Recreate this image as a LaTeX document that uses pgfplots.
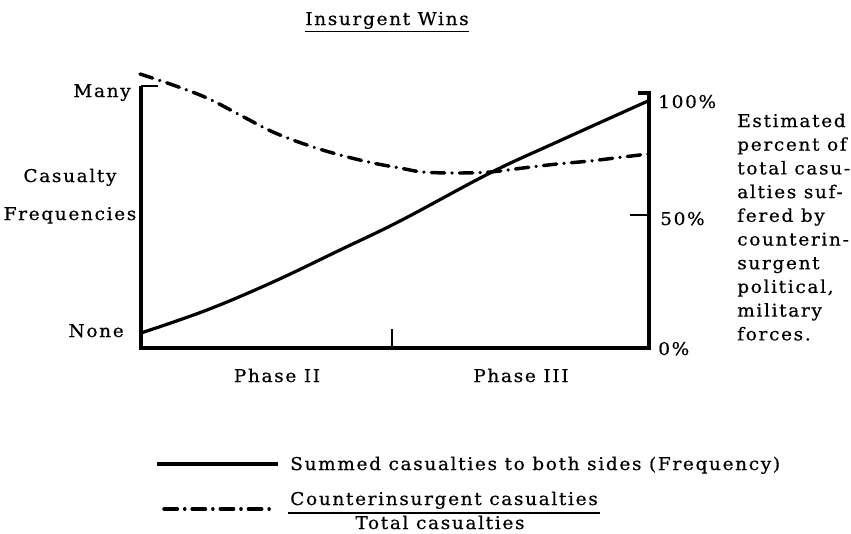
\documentclass[border=0pt]{standalone}
\usepackage{pgfplots}
\pgfplotsset{compat=1.18}
\usepackage{fontspec}
\setmainfont{DejaVu Serif}[LetterSpace=9.5, FakeStretch=1.05, FakeBold=0.6]
\tikzset{lbl/.style={font=\fontsize{13.2}{15}\selectfont, inner sep=0pt, text=black}}
\begin{document}
\begin{tikzpicture}
\begin{axis}[x=0.75pt, y=0.75pt, y dir=reverse,
  xmin=0, xmax=851, ymin=0, ymax=533,
  hide axis, clip=false]
\path (axis cs:0,0) rectangle (axis cs:851,533);
% axes frame
\draw[line width=1.3pt] (axis cs:158,86) -- (axis cs:141,86);
\draw[line width=2.6pt, line join=miter] (axis cs:141,86) -- (axis cs:141,348) -- (axis cs:649,348) -- (axis cs:649,93) -- (axis cs:638,93);
\draw[line width=2.2pt] (axis cs:630,215) -- (axis cs:649,215);
\draw[line width=2.2pt] (axis cs:392,329) -- (axis cs:392,348);
% solid: summed casualties
\addplot[black, line width=2.4pt, smooth, tension=0.6] coordinates {
(141,333) (207,310) (273,282) (340,250) (400,221) (490,173) (557,142) (648,101)};
% dash-dot: ratio
\addplot[black, line width=2.6pt, line cap=round, dash pattern=on 10pt off 5.5pt on 0.1pt off 5.5pt, smooth, tension=0.6] coordinates {
(140,74) (173,85) (207,98) (240,115) (273,132) (307,145) (340,155) (373,163)
(400,168) (423,172) (457,173) (490,172) (523,168) (557,164) (590,161) (623,157) (648,154)};
% title
\node[lbl, anchor=base] at (axis cs:387,25) {\underline{Insurgent Wins}};
% left labels
\node[lbl, anchor=base east] at (axis cs:131,97) {Many};
\node[lbl, anchor=base] at (axis cs:70,182) {Casualty};
\node[lbl, anchor=base] at (axis cs:70,220) {Frequencies};
\node[lbl, anchor=base east] at (axis cs:124,337) {None};
% bottom labels
\node[lbl, anchor=base] at (axis cs:277,382) {Phase II};
\node[lbl, anchor=base] at (axis cs:521,382) {Phase III};
% right labels
\node[lbl, anchor=base west] at (axis cs:658,108) {100\%};
\node[lbl, anchor=base west] at (axis cs:660,225) {50\%};
\node[lbl, anchor=base west] at (axis cs:658,355) {0\%};
\node[lbl, anchor=base west] at (axis cs:737,127.0) {Estimated};
\node[lbl, anchor=base west] at (axis cs:737,150.7) {percent of};
\node[lbl, anchor=base west] at (axis cs:737,174.4) {total casu-};
\node[lbl, anchor=base west] at (axis cs:737,198.1) {alties suf-};
\node[lbl, anchor=base west] at (axis cs:737,221.8) {fered by};
\node[lbl, anchor=base west] at (axis cs:737,245.5) {counterin-};
\node[lbl, anchor=base west] at (axis cs:737,269.2) {surgent};
\node[lbl, anchor=base west] at (axis cs:737,292.9) {political,};
\node[lbl, anchor=base west] at (axis cs:737,316.6) {military};
\node[lbl, anchor=base west] at (axis cs:737,340.3) {forces.};
% legend
\draw[line width=2.4pt] (axis cs:157,464) -- (axis cs:278,464);
\node[lbl, anchor=base west] at (axis cs:290,470) {Summed casualties to both sides (Frequency)};
\draw[line width=2.6pt, line cap=round, dash pattern=on 10pt off 5.5pt on 0.1pt off 5.5pt] (axis cs:164,509) -- (axis cs:274,509);
\node[lbl, anchor=base west] at (axis cs:290,505) {Counterinsurgent casualties};
\draw[line width=1.4pt] (axis cs:288,513) -- (axis cs:600,513);
\node[lbl, anchor=base] at (axis cs:440,529) {Total casualties};
\end{axis}
\end{tikzpicture}
\end{document}
